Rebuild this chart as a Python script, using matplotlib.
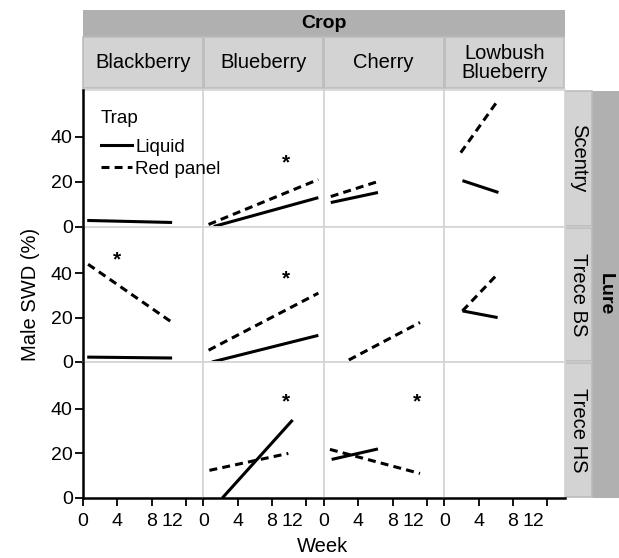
import matplotlib
matplotlib.use("Agg")
import matplotlib.pyplot as plt
from matplotlib import font_manager
from matplotlib.patches import Rectangle
from matplotlib.lines import Line2D
from matplotlib.transforms import ScaledTranslation

names = {f.name for f in font_manager.fontManager.ttflist}
BASE = "Liberation Sans" if "Liberation Sans" in names else "DejaVu Sans"
NARROW = "Liberation Sans Narrow" if "Liberation Sans Narrow" in names else BASE
plt.rcParams['font.family'] = [BASE, 'DejaVu Sans']

# ---------------- data ----------------
crops = ["Blackberry", "Blueberry", "Cherry", "Lowbush\nBlueberry"]
lures = ["Scentry", "Trece BS", "Trece HS"]
traps = ["Liquid", "Red panel"]
x_ticks = [0, 4, 8, 12]
y_ticks = [0, 20, 40]

# fitted trend segments per [lure][crop]: [week_start, week_end, pct_start, pct_end]
liquid = [
    [[0.5, 10.4, 2.7, 1.8], [1.2, 13.4, 0.0, 12.9], [0.8, 6.3, 10.7, 15.2], [2.1, 6.3, 20.5, 15.2]],
    [[0.5, 10.4, 2.2, 1.8], [1.0, 13.4, 0.0, 12.0], None, [2.1, 6.2, 23.0, 20.0]],
    [None, [2.2, 10.4, 0.0, 35.0], [0.9, 6.3, 17.3, 22.0], None],
]
red_panel = [
    [None, [0.6, 13.4, 0.9, 21.0], [0.8, 6.3, 13.4, 20.1], [1.9, 6.3, 33.0, 56.7]],
    [[0.6, 10.4, 44.0, 17.8], [0.6, 13.4, 5.3, 31.0], [2.9, 11.2, 0.9, 17.8], [2.1, 6.2, 23.0, 39.6]],
    [None, [0.7, 9.9, 12.4, 20.0], [0.7, 11.2, 21.8, 11.0], None],
]
# significance asterisks
star_lure = [0, 1, 1, 2, 2]
star_crop = [1, 0, 1, 1, 2]
star_week = [9.6, 4.0, 9.6, 9.6, 10.9]
star_pct = [28.5, 46.0, 37.6, 43.0, 43.0]

# ---------------- layout ----------------
W, H = 619, 558
fig = plt.figure(figsize=(W / 100, H / 100), dpi=100)

xe = [82.5, 203, 323.5, 444, 564.5]
ye = [90, 226.5, 362, 498]

def fx(x):
    return x / W

def fy(y):
    return 1 - y / H

GRID = "#d4d4d4"
axes = {}
for r in range(3):
    for c in range(4):
        ax = fig.add_axes([fx(xe[c]), fy(ye[r + 1]), fx(xe[c + 1]) - fx(xe[c]),
                           fy(ye[r]) - fy(ye[r + 1])])
        ax.set_xlim(-0.05, 14)
        ax.set_ylim(0, 61)
        for s in ax.spines.values():
            s.set_color(GRID)
            s.set_linewidth(1.2)
        ax.set_xticks(x_ticks)
        ax.set_yticks(y_ticks)
        ax.tick_params(length=0, labelbottom=False, labelleft=False)
        if c == 0:
            ax.spines['left'].set_color('black')
            ax.spines['left'].set_linewidth(1.8)
            ax.spines['left'].set_zorder(5)
            ax.tick_params(axis='y', length=6, width=1.3, direction='out',
                           labelleft=True, labelsize=14, pad=1)
            for t in ax.get_yticklabels():
                t.set_fontfamily(NARROW)
        if r == 2:
            ax.spines['bottom'].set_color('black')
            ax.spines['bottom'].set_linewidth(1.8)
            ax.spines['bottom'].set_zorder(5)
            ax.tick_params(axis='x', length=6, width=1.3, direction='out',
                           labelbottom=True, labelsize=14, pad=5)
            ax.set_xticklabels([str(v) for v in x_ticks])
            labels = ax.get_xticklabels()
            for t in labels:
                t.set_fontfamily(NARROW)
            last = labels[-1]
            last.set_horizontalalignment('right')
            last.set_transform(last.get_transform() +
                               ScaledTranslation(-3 / 100, 0, fig.dpi_scale_trans))
        seg = liquid[r][c]
        if seg is not None:
            ax.plot(seg[0:2], seg[2:4], color='black', lw=2.2, ls='-',
                    solid_capstyle='butt', clip_on=True)
        seg = red_panel[r][c]
        if seg is not None:
            ax.plot(seg[0:2], seg[2:4], color='black', lw=2.2, ls=(0, (2.6, 1.7)),
                    dash_capstyle='butt', clip_on=True)
        axes[(r, c)] = ax

for lr, cr, wk, pc in zip(star_lure, star_crop, star_week, star_pct):
    axes[(lr, cr)].text(wk, pc, "*", ha='center', va='center', fontsize=15,
                        fontweight='bold', color='black')

# legend
axes[(0, 0)].set_zorder(3)
handles = [Line2D([], [], color='black', lw=2.2, ls='-'),
           Line2D([], [], color='black', lw=2.2, ls=(0, (2.6, 1.7)))]
leg = axes[(0, 0)].legend(handles, traps, title="Trap", loc='upper left',
                          bbox_to_anchor=(0.15, 0.85), frameon=False, fontsize=13.5,
                          title_fontsize=13.5, handlelength=1.65, handletextpad=0.2,
                          labelspacing=0.25, borderpad=0, borderaxespad=0,
                          alignment='left')
leg._legend_box.sep = 8

# decorations in pixel coordinates
deco = fig.add_axes([0, 0, 1, 1], zorder=-1)
deco.set_xlim(0, W)
deco.set_ylim(H, 0)
deco.axis('off')

DARK = "#b0b0b0"
LIGHT = "#d3d3d3"
EDGE = "#bcbcbc"
deco.add_patch(Rectangle((83, 10), 481.5, 27, facecolor=DARK, edgecolor='none'))
deco.text((83 + 564.5) / 2, 23.5, "Crop", ha='center', va='center', fontsize=14,
          fontweight='bold')
for c in range(4):
    deco.add_patch(Rectangle((xe[c] + 0.5, 37), xe[c + 1] - xe[c] - 1, 51,
                             facecolor=LIGHT, edgecolor=EDGE, lw=1.2))
    deco.text((xe[c] + xe[c + 1]) / 2, 63, crops[c], ha='center', va='center',
              fontsize=14.5, linespacing=1.05)

deco.add_patch(Rectangle((592, 91), 27, 407, facecolor=DARK, edgecolor='none'))
deco.text(605.5, 294, "Lure", ha='center', va='center', rotation=270, fontsize=14,
          fontweight='bold')
for r in range(3):
    deco.add_patch(Rectangle((565, ye[r] + 1), 27, ye[r + 1] - ye[r] - 2,
                             facecolor=LIGHT, edgecolor=EDGE, lw=1.2))
    deco.text(578.5, (ye[r] + ye[r + 1]) / 2, lures[r], ha='center', va='center',
              rotation=270, fontsize=14.5)

deco.text(31, 294, "Male SWD (%)", ha='center', va='center', rotation=90, fontsize=14.5)
deco.text(323, 546, "Week", ha='center', va='center', fontsize=14.5)

fig.savefig("out.png", dpi=100)
